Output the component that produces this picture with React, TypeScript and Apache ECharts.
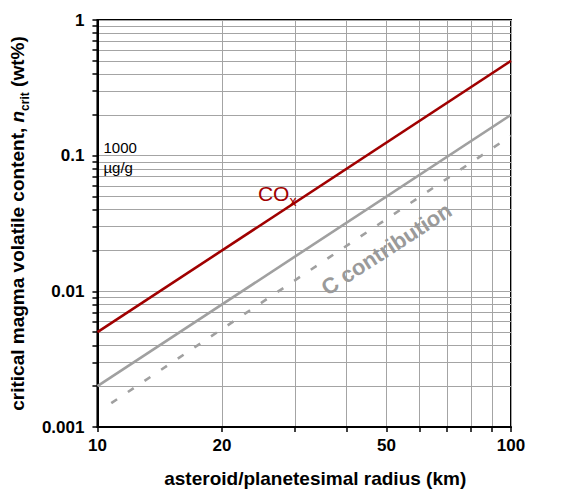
import React, { useEffect, useRef } from "react";
import * as echarts from "echarts";

// Radius (km) and critical volatile content (wt%) for each curve
const radiusKm = [10, 100];
const coxCrit = [0.005, 0.5];
const bulkCrit = [0.002, 0.2];
const carbonRadiusKm = [10.8, 100];
const carbonCrit = [0.0015, 0.14];

// Axis ticks and labels
const xTickLabels = [10, 20, 50, 100];
const yTickLabels = [0.001, 0.01, 0.1, 1];
const xTicks = [10, 20, 30, 40, 50, 60, 70, 80, 90, 100];
const yDecades = [0.001, 0.01, 0.1];
const yTicks: number[] = [];
yDecades.forEach((d) => {
  for (let m = 1; m <= 9; m++) yTicks.push(parseFloat((d * m).toPrecision(6)));
});
yTicks.push(1);

const FONT = "'Liberation Sans', Arial, Helvetica, sans-serif";
const RED = "#a00000";
const GREY = "#a0a0a0";
const GRID = "#a4a4a4";

const zip = (xs: number[], ys: number[]) => xs.map((x, i) => [x, ys[i]]);

export default function App() {
  const ref = useRef<HTMLDivElement>(null);

  useEffect(() => {
    if (!ref.current) return;
    const chart = echarts.init(ref.current, undefined, { renderer: "svg" });

    const option: any = {
      animation: false,
      backgroundColor: "#fff",
      grid: {
        left: 96,
        right: 54,
        top: 20,
        bottom: 60,
        show: true,
        borderColor: "#000",
        borderWidth: 2,
        backgroundColor: "transparent",
      },
      xAxis: {
        type: "log",
        logBase: 10,
        min: 10,
        max: 100,
        name: "asteroid/planetesimal radius (km)",
        nameLocation: "middle",
        nameGap: 42,
        nameTextStyle: {
          fontFamily: FONT,
          fontSize: 19,
          fontWeight: "bold",
          color: "#000",
          padding: [0, 0, 0, 22],
        },
        axisLine: { show: true, lineStyle: { color: "#000", width: 2 } },
        axisTick: {
          show: true,
          customValues: xTicks,
          length: 5,
          lineStyle: { color: "#000", width: 1.5 },
        },
        axisLabel: {
          customValues: xTickLabels,
          fontFamily: FONT,
          fontSize: 17,
          fontWeight: "bold",
          color: "#000",
          margin: 10,
          formatter: (v: number) => String(v),
        },
        splitLine: { show: true, lineStyle: { color: GRID, width: 1 } },
      },
      yAxis: {
        type: "log",
        logBase: 10,
        min: 0.001,
        max: 1,
        name: "{m|critical magma volatile content, }{i|n}{s|crit}{m| (wt%)}",
        nameLocation: "middle",
        nameGap: 55,
        nameTextStyle: {
          fontFamily: FONT,
          fontSize: 19,
          fontWeight: "bold",
          color: "#000",
          rich: {
            m: { fontFamily: FONT, fontSize: 19, fontWeight: "bold", lineHeight: 22, verticalAlign: "top", color: "#000" },
            i: { fontFamily: FONT, fontSize: 19, fontWeight: "bold", fontStyle: "italic", lineHeight: 22, verticalAlign: "top", color: "#000" },
            s: { fontFamily: FONT, fontSize: 12, fontWeight: "bold", lineHeight: 12, padding: [11, 0, 0, 0], verticalAlign: "top", color: "#000" },
          },
        },
        axisLine: { show: true, lineStyle: { color: "#000", width: 2 } },
        axisTick: {
          show: true,
          customValues: yTicks,
          length: 5,
          lineStyle: { color: "#000", width: 1.5 },
        },
        axisLabel: {
          customValues: yTickLabels,
          fontFamily: FONT,
          fontSize: 17,
          fontWeight: "bold",
          color: "#000",
          margin: 13,
          formatter: (v: number) => String(v),
        },
        splitLine: { show: true, lineStyle: { color: GRID, width: 1 } },
      },
      series: [
        {
          name: "COx",
          type: "line",
          data: zip(radiusKm, coxCrit),
          symbol: "none",
          lineStyle: { color: RED, width: 2.6 },
          z: 5,
        },
        {
          name: "bulk",
          type: "line",
          data: zip(radiusKm, bulkCrit),
          symbol: "none",
          lineStyle: { color: GREY, width: 2.6 },
          z: 4,
        },
        {
          name: "C contribution",
          type: "line",
          data: zip(carbonRadiusKm, carbonCrit),
          symbol: "none",
          lineStyle: { color: GREY, width: 2.6, type: [7, 13] },
          z: 4,
        },
      ],
    };

    chart.setOption(option);

    const at = (x: number, y: number) =>
      chart.convertToPixel({ xAxisIndex: 0, yAxisIndex: 0 }, [x, y]) as number[];

    const coxPos = at(27.2, 0.052);
    const cPos = at(50, 0.0205);
    const unitPos = at(10, 0.1);

    chart.setOption({
      graphic: [
        {
          type: "text",
          x: coxPos[0],
          y: coxPos[1],
          z: 10,
          style: {
            text: "{a|CO}{b|x}",
            align: "center",
            verticalAlign: "middle",
            rich: {
              a: { fontFamily: FONT, fontSize: 21, fill: RED, lineHeight: 22, verticalAlign: "top" },
              b: { fontFamily: FONT, fontSize: 14, fill: RED, lineHeight: 14, padding: [11, 0, 0, 0], verticalAlign: "top" },
            },
          },
        },
        {
          type: "text",
          x: cPos[0],
          y: cPos[1],
          rotation: (33 * Math.PI) / 180,
          z: 10,
          style: {
            text: "C contribution",
            align: "center",
            verticalAlign: "middle",
            fontFamily: FONT,
            fontSize: 22,
            fontWeight: "bold",
            fill: "#9a9a9a",
          },
        },
        {
          type: "text",
          x: unitPos[0] + 6,
          y: unitPos[1] + 2,
          z: 10,
          style: {
            text: "1000\nµg/g",
            align: "left",
            verticalAlign: "middle",
            fontFamily: FONT,
            fontSize: 15,
            lineHeight: 20,
            fill: "#000",
          },
        },
      ],
    });

    return () => chart.dispose();
  }, []);

  return (
    <div
      ref={ref}
      style={{ position: "absolute", left: 0, top: 0, width: 565, height: 493 }}
    />
  );
}
